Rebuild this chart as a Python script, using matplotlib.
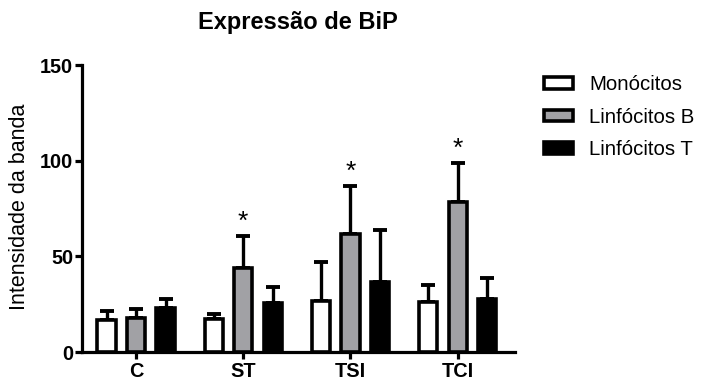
import numpy as np
import matplotlib
matplotlib.use('Agg')
from matplotlib import pyplot as plt

plt.rcParams['font.family'] = ['Liberation Sans', 'DejaVu Sans']

grupos = ['C', 'ST', 'TSI', 'TCI']
series = ['Monócitos', 'Linfócitos B', 'Linfócitos T']

monocitos = [16.5, 17, 26.5, 26]
monocitos_err = [5, 3, 20.5, 9]
linf_b = [18, 44, 61.5, 78.5]
linf_b_err = [4.7, 16.5, 25.5, 20.5]
linf_t = [23, 25.5, 36.5, 27.5]
linf_t_err = [4.8, 8.5, 27.5, 11]
sig_b = ['', '*', '*', '*']

valores = [monocitos, linf_b, linf_t]
erros = [monocitos_err, linf_b_err, linf_t_err]
cores = ['white', '#a1a1a5', 'black']

fig = plt.figure(figsize=(7.03, 3.82), dpi=100)
ax = fig.add_axes([0.1162, 0.0785, 0.6164, 0.7513])

x = np.arange(len(grupos))
passo = 0.275
largura = 0.17
lw = 2.6

for i in range(3):
    pos = x + (i - 1) * passo
    ax.bar(pos, valores[i], largura, color=cores[i], edgecolor='black',
           linewidth=lw, label=series[i], zorder=3)
    ax.errorbar(pos, valores[i], yerr=[np.zeros(4), erros[i]], fmt='none',
                ecolor='black', elinewidth=2.4, capsize=4.7, capthick=2.8,
                zorder=2)

# asteriscos sobre Linfocitos B
for j in range(len(grupos)):
    if sig_b[j]:
        ax.annotate(sig_b[j], (x[j], linf_b[j] + linf_b_err[j]),
                    xytext=(0, 5), textcoords='offset points',
                    ha='center', va='baseline', fontsize=19)

ax.set_xlim(-0.507, 3.535)
ax.set_ylim(0, 150)
ax.set_yticks([0, 50, 100, 150])
ax.set_xticks(x)
ax.set_xticklabels(grupos)
for s in ['top', 'right']:
    ax.spines[s].set_visible(False)
for s in ['left', 'bottom']:
    ax.spines[s].set_linewidth(2.3)
ax.tick_params(axis='both', length=5, width=2.3, labelsize=14.3)
ax.tick_params(axis='y', pad=1)
ax.tick_params(axis='x', pad=2)
for t in ax.get_xticklabels() + ax.get_yticklabels():
    t.set_fontweight('bold')

fig.text(298 / 703, 1 - 22 / 382, 'Expressão de BiP', ha='center',
         va='center', fontsize=17, fontweight='bold')
fig.text(20 / 703, 1 - 207 / 382, 'Intensidade da banda', rotation=90,
         ha='center', va='center', fontsize=15.5)

leg = fig.legend(loc='upper left', bbox_to_anchor=(544 / 703, 1 - 75 / 382),
                 frameon=False, fontsize=14.7, borderpad=0, borderaxespad=0,
                 handlelength=1.42, handleheight=0.5, handletextpad=0.8,
                 labelspacing=0.67)

fig.savefig('out.png', dpi=100)
